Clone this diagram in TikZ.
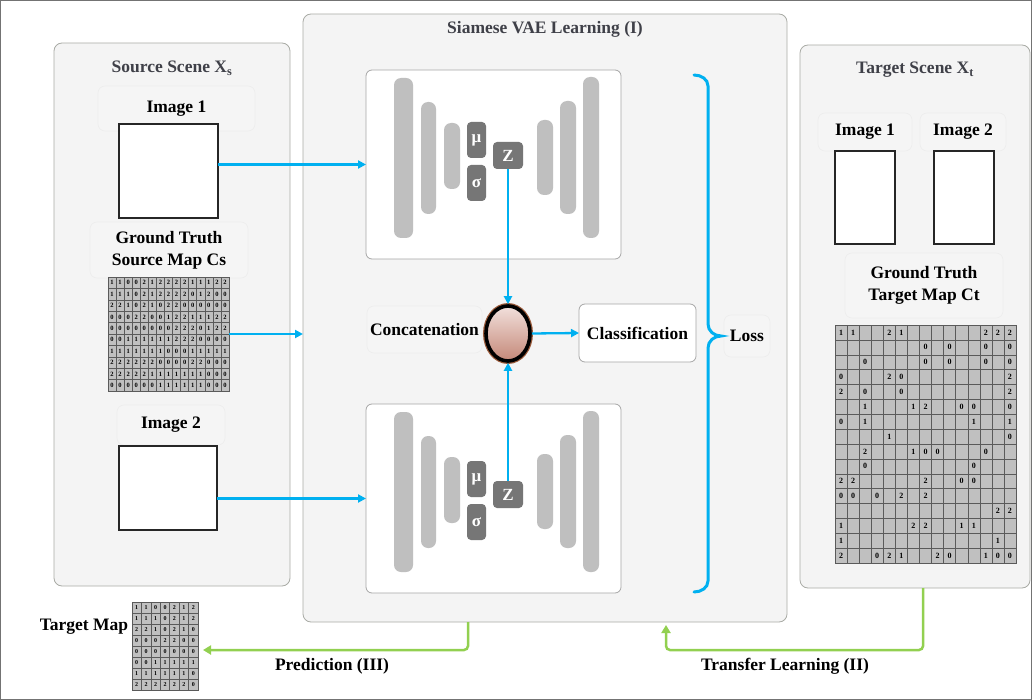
\documentclass[tikz,border=0pt]{standalone}
\usepackage{fontspec}
\setmainfont{Liberation Serif}
\usetikzlibrary{arrows.meta,shapes.geometric,calc}
\definecolor{panelfill}{HTML}{F4F4F4}
\definecolor{panelline}{HTML}{A9ABA5}
\definecolor{lblfill}{HTML}{F5F5F5}
\definecolor{lblline}{HTML}{EDEDED}
\definecolor{arrblue}{HTML}{00B0F0}
\definecolor{arrgreen}{HTML}{92D050}
\definecolor{barfill}{HTML}{BFBFBF}
\definecolor{latfill}{HTML}{767676}
\definecolor{titlecol}{HTML}{3F4048}
\definecolor{cellfill}{HTML}{C0C0C0}
\definecolor{cellline}{HTML}{5A5A5A}
\definecolor{ctop}{HTML}{F2E0DC}
\definecolor{cbot}{HTML}{C48878}
\definecolor{cglow}{HTML}{9A5A3A}
\newcommand\bigfont{\bfseries\fontsize{17.5}{22}\selectfont}
\newcommand\vaeunit[3]{%
 \begin{scope}[yshift=-#2pt]
  \node[vaebox, anchor=north west, minimum width=255, minimum height=189] (#1vae) at (366,70) {};
  \draw[bar] (394,78) rectangle (413,238);
  \draw[bar] (421,102) rectangle (436,214);
  \draw[bar] (444,123) rectangle (460,189);
  \draw[bar] (537,120) rectangle (553,195);
  \draw[bar] (560,101) rectangle (576,214);
  \draw[bar] (583,77) rectangle (599,238);
  \node[latent, minimum width=19, minimum height=36] (#1mu) at (476.5,140+#3) {μ};
  \node[latent, minimum width=19, minimum height=36] (#1sig) at (476.5,183+#3) {σ};
  \node[latent, minimum width=30, minimum height=27] (#1z) at (508,155.5+#3) {Z};
 \end{scope}}
\newcommand\gridcells[7]{%
 \foreach \row [count=\r] in {#7} {
  \foreach \v [count=\c] in \row {
   \node[cell, minimum width=#4, minimum height=#5, font=\bfseries\fontsize{#6}{#6}\selectfont]
     (#1-\r-\c) at ({#2+(\c-0.5)*#4},{#3+(\r-0.5)*#5}) {\v};
  }
 }}
\begin{document}
\begin{tikzpicture}[x=1pt,y=-1pt,
  font=\bigfont,
  panel/.style={draw=panelline, fill=panelfill, line width=0.8pt, rounded corners=8pt, inner sep=0pt, outer sep=0pt},
  lbl/.style={draw=lblline, fill=lblfill, line width=0.6pt, rounded corners=7pt, inner sep=0pt, outer sep=0pt},
  imgbox/.style={draw=black!85, fill=white, line width=1.2pt, inner sep=0pt, outer sep=0pt},
  vaebox/.style={draw=black!35, fill=white, line width=0.8pt, rounded corners=6pt, inner sep=0pt, outer sep=0pt},
  bar/.style={fill=barfill, draw=none, rounded corners=7pt},
  latent/.style={fill=latfill, draw=none, rounded corners=4pt, text=white, inner sep=0pt, font=\bfseries\fontsize{17}{17}\selectfont},
  title/.style={text=titlecol, font=\bigfont},
  cell/.style={draw=cellline, fill=cellfill, line width=0.5pt, inner sep=0pt, outer sep=0pt, text=black},
  arr/.style={draw=arrblue, line width=2.3pt, -{Triangle[length=8pt,width=8pt]}},
  garr/.style={draw=arrgreen, line width=2.5pt, rounded corners=4pt, -{Triangle[length=8pt,width=9pt]}}
]
\useasboundingbox (0,0) rectangle (1032,700);
\draw[black!55, line width=1pt] (0.5,0.5) rectangle (1031.5,699.5);

% panels
\node[panel, anchor=north west, minimum width=236, minimum height=543] (src) at (54,43) {};
\node[panel, anchor=north west, minimum width=484, minimum height=608] (siam) at (303,14) {};
\node[panel, anchor=north west, minimum width=230, minimum height=543] (tgt) at (800,45) {};

% titles
\node[title] (srct) at (172,68) {Source Scene X\textsubscript{s}};
\node[title] (siamt) at (545,29) {Siamese VAE Learning (I)};
\node[title] (tgtt) at (915,70) {Target Scene X\textsubscript{t}};

% source scene
\node[lbl, anchor=north west, minimum width=157, minimum height=45] (simg1l) at (98,86) {Image 1};
\node[imgbox, anchor=north west, minimum width=99, minimum height=94] (simg1) at (119,124) {};
\node[lbl, anchor=north west, minimum width=158, minimum height=56, align=center] (sgtl) at (90,222) {Ground Truth\\Source Map Cs};
\node[cell, anchor=north west, minimum width=121, minimum height=114] (sgrid) at (108,277) {};
\gridcells{sg}{108}{277}{8.0667}{11.4}{6.5}{
 {1,1,0,0,2,1,2,2,2,2,1,1,1,2,2},
 {1,1,1,0,2,1,2,2,2,2,0,1,2,0,0},
 {2,2,1,0,2,1,0,2,2,0,0,0,0,0,0},
 {0,0,0,2,2,0,0,1,2,2,1,1,1,2,2},
 {0,0,0,0,0,0,0,0,2,2,2,0,1,2,2},
 {0,0,1,1,1,1,1,1,2,2,2,0,0,0,0},
 {1,1,1,1,1,1,1,0,0,0,1,1,1,1,1},
 {2,2,2,2,2,2,0,0,0,0,2,2,0,0,0},
 {2,2,2,2,2,1,1,1,1,1,1,1,0,0,0},
 {0,0,0,0,0,0,1,1,1,1,1,1,0,0,0}}
\node[lbl, anchor=north west, minimum width=108, minimum height=40] (simg2l) at (117,405) {Image 2};
\node[imgbox, anchor=north west, minimum width=98, minimum height=84] (simg2) at (119,446) {};

% VAEs
\vaeunit{t}{0}{0}
\vaeunit{b}{334}{5}

% concatenation / classification
\node[lbl, anchor=north west, minimum width=115, minimum height=47] (ccl) at (367,306) {Concatenation};
\node[ellipse, minimum width=44, minimum height=55, inner sep=0pt, draw=black, line width=3.6pt,
      top color=ctop, bottom color=cbot,
      preaction={draw=cglow, line width=6pt}] (cc) at (508,333.5) {};
\node[vaebox, anchor=north west, minimum width=117, minimum height=58] (cls) at (579,304) {Classification};
\node[lbl, anchor=north west, minimum width=46, minimum height=42] (loss) at (724,315) {Loss};

% brace
\draw[arrblue, line width=3pt, line cap=round]
  (694,75) to[out=0,in=90] (708,86) -- (708,324)
  to[out=-90,in=180] (721,336) to[out=180,in=90] (708,348)
  -- (708,581) to[out=-90,in=0] (694,592);

% target scene
\node[lbl, anchor=north west, minimum width=94, minimum height=38] (timg1l) at (818,113) {Image 1};
\node[lbl, anchor=north west, minimum width=86, minimum height=38] (timg2l) at (920,113) {Image 2};
\node[imgbox, anchor=north west, minimum width=60, minimum height=93] (timg1) at (835,151) {};
\node[imgbox, anchor=north west, minimum width=60, minimum height=93] (timg2) at (934,151) {};
\node[lbl, anchor=north west, minimum width=158, minimum height=65, align=center] (tgtl) at (845,253) {Ground Truth\\Target Map Ct};
\node[cell, anchor=north west, minimum width=181, minimum height=238] (tgrid) at (835,325) {};
\gridcells{tg}{835}{325}{12.0667}{14.875}{8}{
 {1,1,{},{},2,1,{},{},{},{},{},{},2,2,2},
 {{},{},{},{},{},{},{},0,{},0,{},{},0,{},0},
 {{},{},0,{},{},{},{},0,{},0,{},{},0,{},0},
 {0,{},{},{},2,0,{},{},{},{},{},{},{},{},2},
 {2,{},0,{},{},0,{},{},{},{},{},{},{},{},2},
 {{},{},1,{},{},{},1,2,{},{},0,0,{},{},0},
 {0,{},1,{},{},{},{},{},{},{},{},1,{},{},1},
 {{},{},{},{},1,{},{},{},{},{},{},{},{},{},0},
 {{},{},2,{},{},{},1,0,0,{},{},{},0,{},{}},
 {{},{},0,{},{},{},{},{},{},{},{},0,{},{},{}},
 {2,2,{},{},{},{},{},2,{},{},0,0,{},{},{}},
 {0,0,{},0,{},2,{},2,{},{},{},{},{},{},{}},
 {{},{},{},{},{},{},{},{},{},{},{},{},{},2,2},
 {1,{},{},{},{},{},2,2,{},{},1,1,{},{},{}},
 {1,{},{},{},{},{},{},{},{},{},{},{},{},1,{}},
 {2,{},{},0,2,1,{},{},2,0,{},{},1,0,0}}

% target map (prediction)
\node (tmapl) at (84,627) {Target Map};
\node[cell, anchor=north west, minimum width=66, minimum height=88] (tmap) at (132,602) {};
\gridcells{pm}{132}{602}{9.4286}{11}{6}{
 {1,1,0,0,2,1,2},
 {1,1,1,0,2,1,2},
 {2,2,1,0,2,1,0},
 {0,0,0,2,2,0,0},
 {0,0,0,0,0,0,0},
 {0,0,1,1,1,1,1},
 {1,1,1,1,1,1,0},
 {2,2,2,2,2,2,0}}

% blue connectors
\draw[arr] (simg1.east |- tvae.west) -- (tvae.west);
\draw[arr] (sgrid.east) -- (sgrid.east -| siam.west);
\draw[arr] (simg2.east |- bvae.west) -- (bvae.west);
\draw[arr] (tz.south) -- (cc.north);
\draw[arr] (bz.north) -- (cc.south);
\draw[arr] (cc.east) -- (cls.west);

% green connectors
\coordinate (predturn) at (468,650);
\coordinate (trturn) at (923,650);
\draw[garr, shorten >=5pt] (predturn |- siam.south) |- (tmap.east |- predturn);
\draw[garr, shorten >=3pt] (trturn |- tgt.south) -- (trturn) -| (666,0 |- siam.south);
\node (predl) at (332,666) {Prediction (III)};
\node (trl) at (785,666) {Transfer Learning (II)};
\end{tikzpicture}
\end{document}
